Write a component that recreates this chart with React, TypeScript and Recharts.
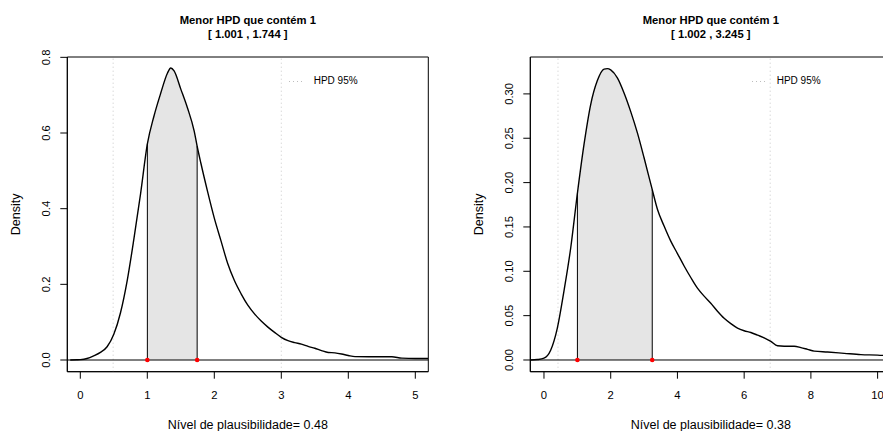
import React from "react";
import {
  ComposedChart,
  Line,
  Area,
  XAxis,
  YAxis,
  ReferenceLine,
  ReferenceArea,
  ReferenceDot,
  Legend,
  Label,
} from "recharts";

const FONT = "'Liberation Sans', Arial, Helvetica, sans-serif";

// ── left panel data ───────────────────────────────────────────
const LEFT_X = [
  -0.15, -0.05, 0.0, 0.1, 0.2, 0.3, 0.4, 0.5, 0.6, 0.7, 0.8, 0.9, 1.001, 1.1, 1.2, 1.3, 1.35, 1.4,
  1.5, 1.6, 1.7, 1.744, 1.8, 1.9, 2.0, 2.1, 2.2, 2.3, 2.4, 2.5, 2.6, 2.7, 2.8, 2.9, 3.0, 3.1, 3.2,
  3.3, 3.4, 3.5, 3.6, 3.7, 3.8, 3.9, 4.0, 4.1, 4.3, 4.5, 4.65, 4.8, 5.0, 5.194,
];
const LEFT_DENSITY = [
  0, 0.0005, 0.001, 0.004, 0.011, 0.02, 0.035, 0.068, 0.125, 0.21, 0.32, 0.44, 0.571, 0.645, 0.705,
  0.758, 0.772, 0.764, 0.716, 0.666, 0.605, 0.565, 0.52, 0.445, 0.375, 0.315, 0.255, 0.21, 0.175,
  0.145, 0.122, 0.103, 0.087, 0.073, 0.06, 0.051, 0.046, 0.042, 0.036, 0.031, 0.025, 0.02, 0.019,
  0.016, 0.012, 0.009, 0.0088, 0.0088, 0.0085, 0.005, 0.004, 0.004,
];
const LEFT_HPD = [1.001, 1.744];
const LEFT_HPD95 = [0.49, 3.0];
const LEFT_X_TICKS = [0, 1, 2, 3, 4, 5];
const LEFT_Y_TICKS = [0, 0.2, 0.4, 0.6, 0.8];
const LEFT_PLAUS = "0.48";

// ── right panel data ──────────────────────────────────────────
const RIGHT_X = [
  -0.41, -0.2, 0.0, 0.2, 0.4, 0.6, 0.8, 1.002, 1.2, 1.4, 1.6, 1.8, 1.9, 2.0, 2.2, 2.4, 2.6, 2.8, 3.0,
  3.245, 3.4, 3.6, 3.8, 4.0, 4.2, 4.4, 4.6, 4.8, 5.0, 5.2, 5.4, 5.6, 5.8, 6.0, 6.2, 6.4, 6.6, 6.8,
  7.0, 7.2, 7.5, 7.7, 7.9, 8.1, 8.5, 9.0, 9.5, 10.0, 10.41,
];
const RIGHT_DENSITY = [
  0, 0.0005, 0.002, 0.011, 0.036, 0.078, 0.126, 0.188, 0.243, 0.288, 0.315, 0.328, 0.3285, 0.327,
  0.318, 0.301, 0.28, 0.256, 0.228, 0.192, 0.17, 0.151, 0.134, 0.12, 0.106, 0.093, 0.081, 0.072,
  0.064, 0.055, 0.047, 0.041, 0.036, 0.033, 0.031, 0.028, 0.025, 0.021, 0.016, 0.0155, 0.0155,
  0.014, 0.012, 0.01, 0.009, 0.0075, 0.006, 0.0055, 0.0045,
];
const RIGHT_HPD = [1.002, 3.245];
const RIGHT_HPD95 = [0.42, 6.78];
const RIGHT_X_TICKS = [0, 2, 4, 6, 8, 10];
const RIGHT_Y_TICKS = [0, 0.05, 0.1, 0.15, 0.2, 0.25, 0.3];
const RIGHT_PLAUS = "0.38";

// ── Panel ─────────────────────────────────────────────────────

interface PanelProps {
  xs: number[];
  density: number[];
  hpd: number[];
  hpd95: number[];
  xTicks: number[];
  yTicks: number[];
  yDigits: number;
  xDomain: [number, number];
  yDomain: [number, number];
  plaus: string;
}

function YTick({ x, y, payload, digits }: any) {
  return (
    <text
      x={x}
      y={y}
      transform={`rotate(-90, ${x}, ${y})`}
      textAnchor="middle"
      fontSize={11.25}
      fontFamily={FONT}
      fill="#000"
    >
      {Number(payload.value).toFixed(digits)}
    </text>
  );
}

function Panel({ xs, density, hpd, hpd95, xTicks, yTicks, yDigits, xDomain, yDomain, plaus }: PanelProps) {
  const rows = xs.map((x, i) => ({ x, d: density[i] }));
  const edges = hpd.map((v) => density[xs.indexOf(v)]);
  const inHpd = (r: { x: number; d: number }) => (r.x >= hpd[0] && r.x <= hpd[1] ? r.d : null);

  return (
    <ComposedChart
      width={450}
      height={431}
      data={rows}
      margin={{ top: 57, right: 21.7, bottom: 0, left: 0 }}
      style={{ fontFamily: FONT }}
    >
      <XAxis
        dataKey="x"
        type="number"
        domain={xDomain}
        allowDataOverflow
        ticks={xTicks}
        interval={0}
        height={59.3}
        tickSize={7}
        tickMargin={12}
        axisLine={{ stroke: "#000" }}
        tickLine={{ stroke: "#000" }}
        tick={{ fill: "#000", fontSize: 11.25, fontFamily: FONT }}
      >
        <Label
          content={({ viewBox }: any) => (
            <text
              x={viewBox.x + viewBox.width / 2}
              y={viewBox.y + 57.3}
              textAnchor="middle"
              fontSize={12.5}
              fontFamily={FONT}
              fill="#000"
            >
              {`Nível de plausibilidade= ${plaus}`}
            </text>
          )}
        />
      </XAxis>
      <YAxis
        type="number"
        domain={yDomain}
        allowDataOverflow
        ticks={yTicks}
        interval={0}
        width={67.3}
        tickSize={7}
        tickMargin={10}
        axisLine={{ stroke: "#000" }}
        tickLine={{ stroke: "#000" }}
        tick={<YTick digits={yDigits} />}
      >
        <Label
          content={({ viewBox }: any) => {
            const lx = viewBox.x + viewBox.width - 47.3;
            const ly = viewBox.y + viewBox.height / 2;
            return (
              <text
                x={lx}
                y={ly}
                transform={`rotate(-90, ${lx}, ${ly})`}
                textAnchor="middle"
                fontSize={12.5}
                fontFamily={FONT}
                fill="#000"
              >
                Density
              </text>
            );
          }}
        />
      </YAxis>

      <Legend
        layout="vertical"
        align="center"
        verticalAlign="middle"
        wrapperStyle={{ left: 288.7, top: 74.5, width: 120, height: 12 }}
        content={() => (
          <div style={{ display: "flex", alignItems: "center", height: 12, fontFamily: FONT }}>
            <svg width={15} height={12} style={{ display: "block" }}>
              <line x1={0} y1={6.5} x2={15} y2={6.5} stroke="#bdbdbd" strokeDasharray="1 3" />
            </svg>
            <span style={{ marginLeft: 10, fontSize: 10, lineHeight: "12px", color: "#000" }}>HPD 95%</span>
          </div>
        )}
      />

      <Area
        dataKey={inHpd}
        type="monotone"
        baseValue={0}
        fill="#e5e5e5"
        fillOpacity={1}
        stroke="none"
        isAnimationActive={false}
        legendType="none"
      />

      {hpd95.map((v) => (
        <ReferenceLine key={`q${v}`} x={v} stroke="#c8c8c8" strokeDasharray="1 3" />
      ))}
      <ReferenceLine y={0} stroke="#000" strokeWidth={1} />
      {hpd.map((v, i) => (
        <ReferenceLine
          key={`e${v}`}
          segment={[
            { x: v, y: 0 },
            { x: v, y: edges[i] },
          ]}
          stroke="#000"
          strokeWidth={1}
        />
      ))}

      <Line
        dataKey="d"
        type="monotone"
        dot={false}
        stroke="#000"
        strokeWidth={1.4}
        isAnimationActive={false}
        legendType="none"
      />

      <ReferenceArea
        x1={xDomain[0]}
        x2={xDomain[1]}
        y1={yDomain[0]}
        y2={yDomain[1]}
        fill="none"
        stroke="#000"
        strokeWidth={1}
        ifOverflow="visible"
      >
        <Label
          content={({ viewBox }: any) => {
            const cx = viewBox.x + viewBox.width / 2;
            return (
              <g>
                <text x={cx} y={viewBox.y - 33} textAnchor="middle" fontSize={11.25} fontWeight="bold" fontFamily={FONT} fill="#000">
                  Menor HPD que contém 1
                </text>
                <text x={cx} y={viewBox.y - 19.5} textAnchor="middle" fontSize={11.25} fontWeight="bold" fontFamily={FONT} fill="#000">
                  {`[ ${hpd[0].toFixed(3)} , ${hpd[1].toFixed(3)} ]`}
                </text>
              </g>
            );
          }}
        />
      </ReferenceArea>

      {hpd.map((v) => (
        <ReferenceDot key={`p${v}`} x={v} y={0} r={2.3} fill="#ff0000" stroke="none" />
      ))}
    </ComposedChart>
  );
}

export default function App() {
  return (
    <div
      style={{
        position: "absolute",
        left: 0,
        top: 0,
        width: 883,
        height: 431,
        overflow: "hidden",
        background: "#fff",
      }}
    >
      <div style={{ position: "absolute", left: 0, top: 0 }}>
        <Panel
          xs={LEFT_X}
          density={LEFT_DENSITY}
          hpd={LEFT_HPD}
          hpd95={LEFT_HPD95}
          xTicks={LEFT_X_TICKS}
          yTicks={LEFT_Y_TICKS}
          yDigits={1}
          xDomain={[-0.194, 5.194]}
          yDomain={[-0.0309, 0.8009]}
          plaus={LEFT_PLAUS}
        />
      </div>
      <div style={{ position: "absolute", left: 463, top: 0 }}>
        <Panel
          xs={RIGHT_X}
          density={RIGHT_DENSITY}
          hpd={RIGHT_HPD}
          hpd95={RIGHT_HPD95}
          xTicks={RIGHT_X_TICKS}
          yTicks={RIGHT_Y_TICKS}
          yDigits={2}
          xDomain={[-0.41, 10.41]}
          yDomain={[-0.0132, 0.3416]}
          plaus={RIGHT_PLAUS}
        />
      </div>
    </div>
  );
}
